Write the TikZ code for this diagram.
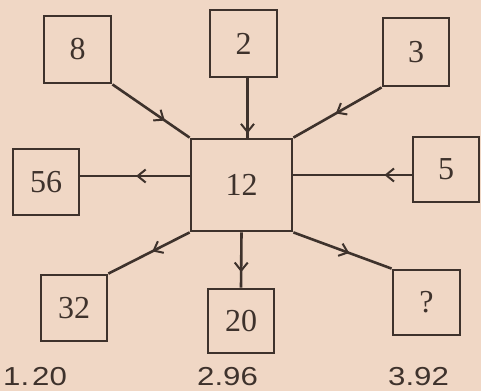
\documentclass[tikz,border=0pt]{standalone}
\usepackage{fontspec}
\setmainfont{Liberation Serif}
\newfontfamily\labfont[FakeStretch=1.2]{Liberation Sans}
\usetikzlibrary{arrows.meta,decorations.markings}
\definecolor{paper}{HTML}{F0D7C5}
\definecolor{ink}{HTML}{3E322C}
\tikzset{
  numbox/.style={draw=ink,line width=2.8pt,minimum width=#1,inner sep=0pt,font=\fontsize{32}{32}\selectfont,text=ink},
  link/.style={draw=ink,line width=2.6pt},
  midarrow/.style={postaction={decorate,decoration={markings,mark=at position #1 with {\arrow{Straight Barb[length=8pt,width=13pt,line width=2pt]}}}}},
  lab/.style={anchor=base west,inner sep=0pt,font=\labfont\fontsize{26}{26}\selectfont,text=ink}
}
\begin{document}
\begin{tikzpicture}[x=1pt,y=-1pt]
\fill[paper] (0,0) rectangle (481,391);
\useasboundingbox (0,0) rectangle (481,391);
\node[numbox=67pt,minimum height=67pt] (b8) at (77.5,49.5) {8};
\node[numbox=67pt,minimum height=67pt] (b2) at (243.5,43.5) {2};
\node[numbox=66pt,minimum height=68pt] (b3) at (416,52) {3};
\node[numbox=66pt,minimum height=65pt] (b5) at (446,169.5) {5};
\node[numbox=66pt,minimum height=66pt] (b56) at (46,182) {56};
\node[numbox=101pt,minimum height=92pt] (b12) at (241.5,185) {12};
\node[numbox=66pt,minimum height=66pt] (b32) at (74,308) {32};
\node[numbox=66pt,minimum height=64pt] (b20) at (241,321) {20};
\node[numbox=67pt,minimum height=65pt] (bq) at (426.5,302.5) {?};
\coordinate (p2) at ([xshift=4pt]b2.south);
\coordinate (p5) at ([yshift=-5.5pt]b5.west);
\coordinate (p56) at ([yshift=6pt]b56.east);
\draw[link,midarrow=0.68] (b8.south east) -- (b12.north west);
\draw[link,midarrow=0.93] (p2) -- (p2 |- b12.north);
\draw[link,midarrow=0.52] (b3.south west) -- (b12.north east);
\draw[link,midarrow=0.23] (p5) -- (p5 -| b12.east);
\draw[link,midarrow=0.49] (p56 -| b12.west) -- (p56);
\draw[link,midarrow=0.46] (b12.south west) -- (b32.north east);
\draw[link,midarrow=0.72] (b12.south) -- (b20.north);
\draw[link,midarrow=0.57] (b12.south east) -- (bq.north west);
\node[lab] (l1) at (3,385) {1.\kern3pt 20};
\node[lab] (l2) at (197,385) {2.96};
\node[lab] (l3) at (388,385) {3.92};
\end{tikzpicture}
\end{document}
